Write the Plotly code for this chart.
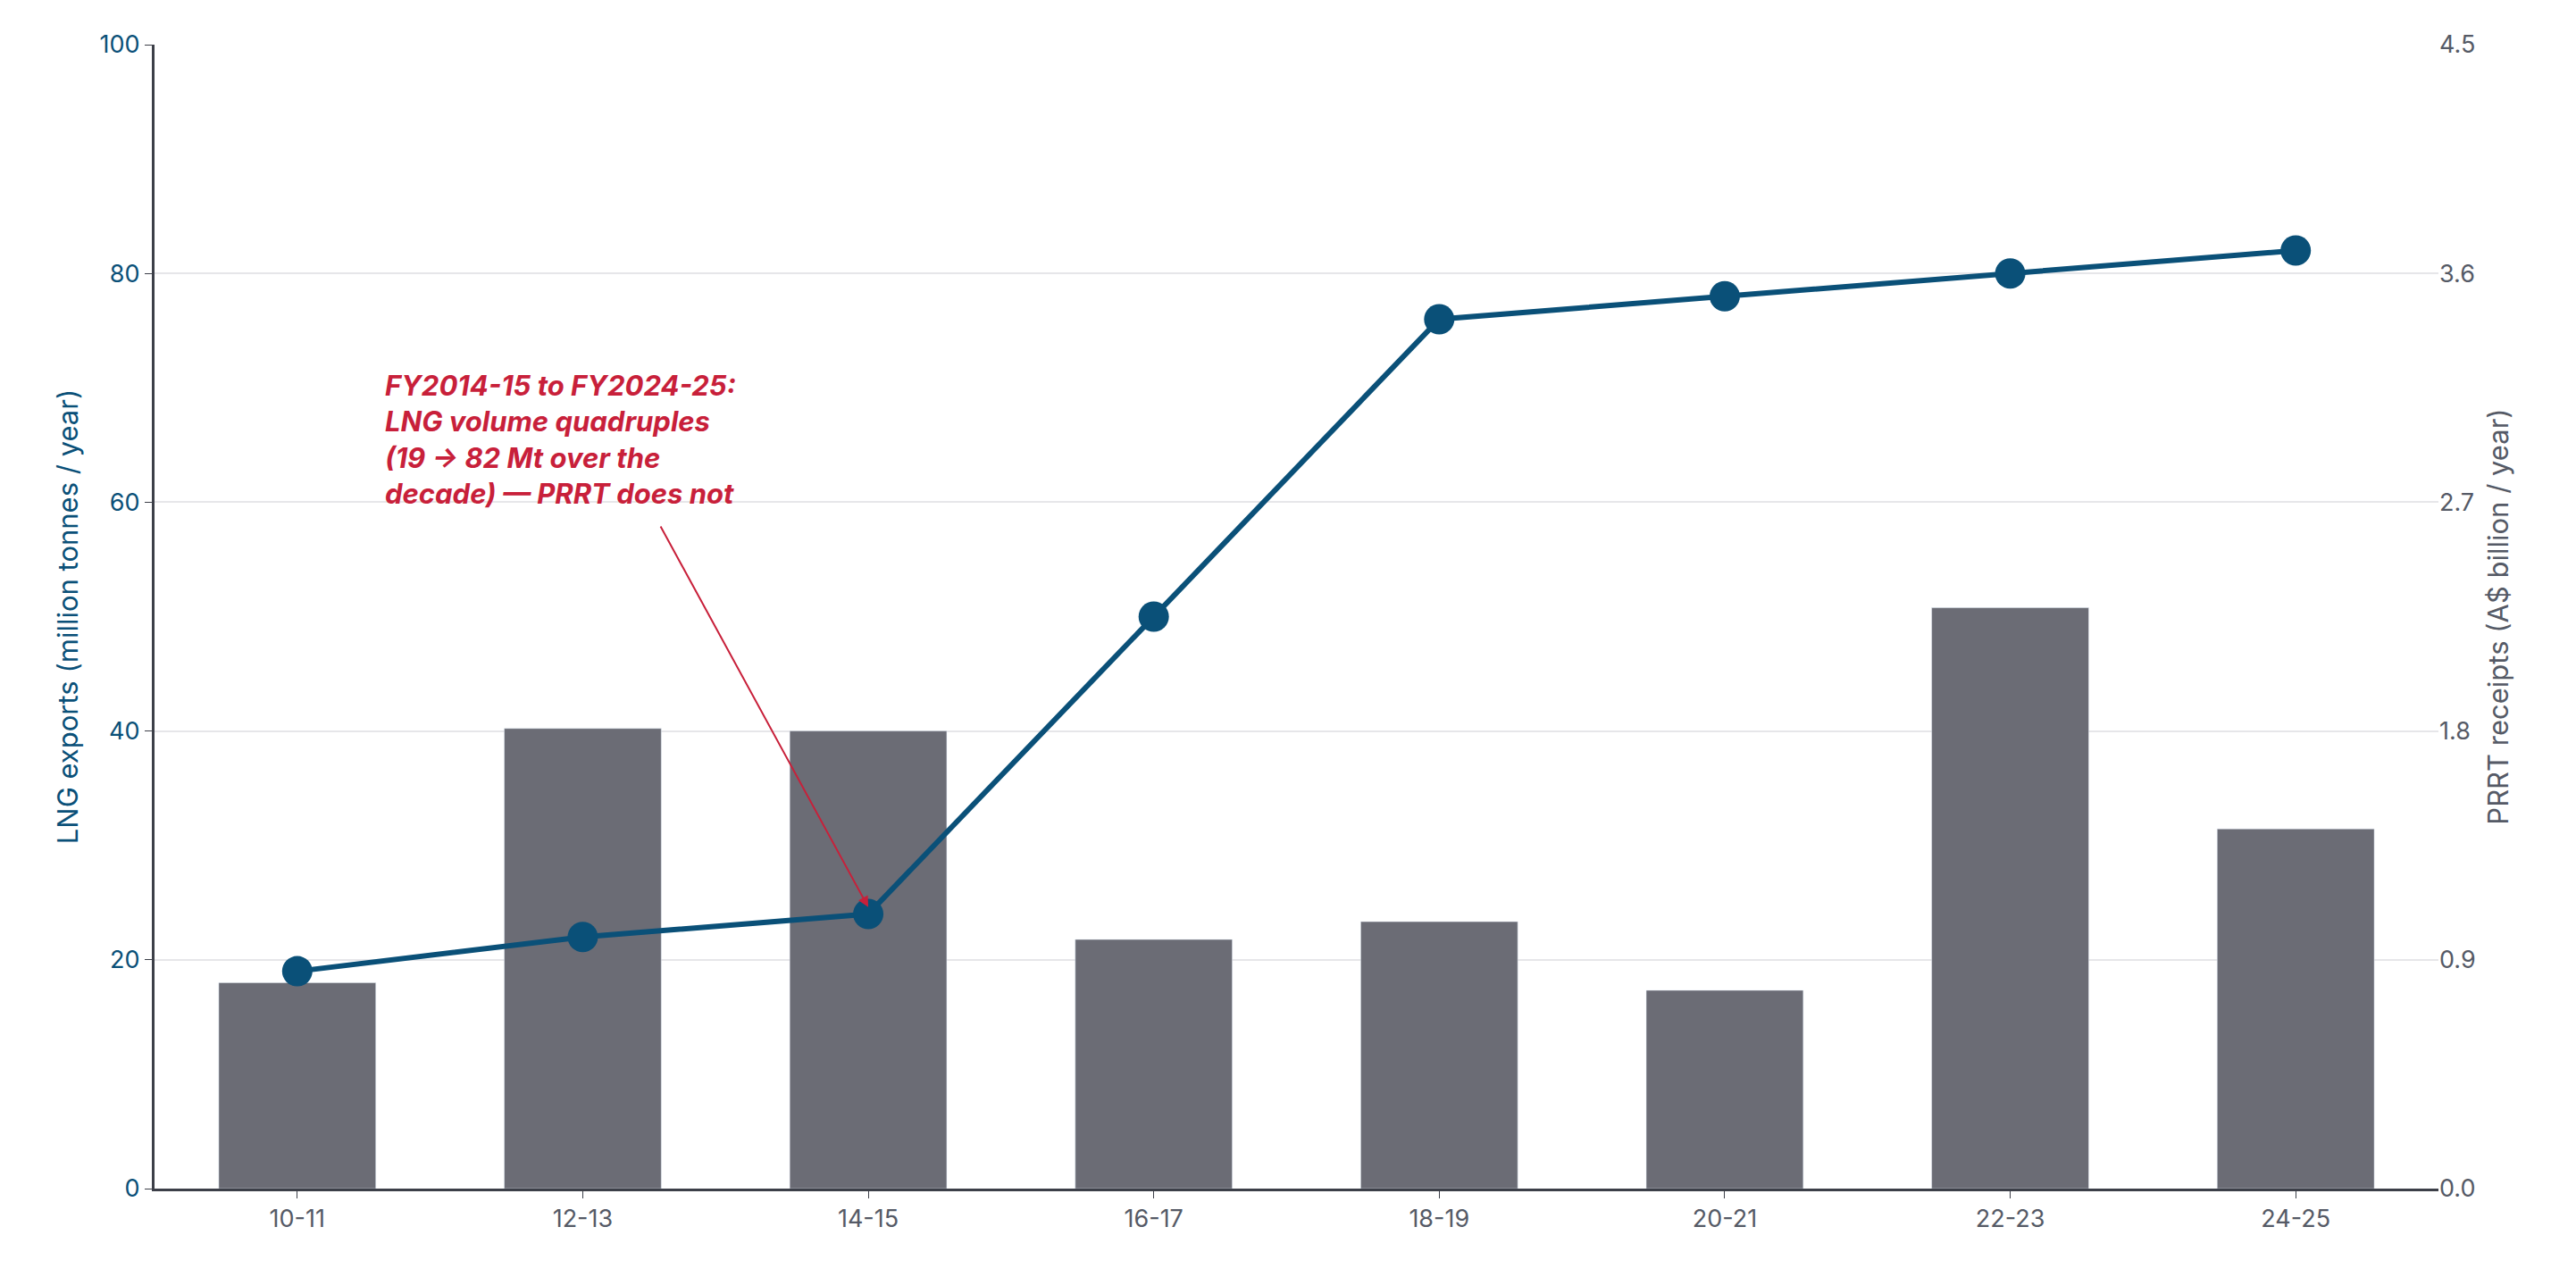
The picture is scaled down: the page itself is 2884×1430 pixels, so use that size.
import plotly.graph_objects as go

years = ["10-11", "12-13", "14-15", "16-17", "18-19", "20-21", "22-23", "24-25"]
lng_exports = [19, 22, 24, 50, 76, 78, 80, 82]
prrt_receipts = [0.81, 1.81, 1.80, 0.98, 1.05, 0.78, 2.285, 1.415]

navy = "#0a5078"
grey = "#6b6c75"
red = "#c8203a"

fig = go.Figure()
# bars on the primary axis (drawn first), shown on the right side
fig.add_trace(go.Bar(x=years, y=prrt_receipts, marker_color=grey, width=0.55,
                     yaxis="y", showlegend=False))
# line on the overlaying axis so it sits above the bars
fig.add_trace(go.Scatter(x=years, y=lng_exports, mode="lines+markers", yaxis="y2",
                         line=dict(color=navy, width=6),
                         marker=dict(size=34, color=navy), showlegend=False))

fig.update_layout(
    width=2884, height=1430,
    margin=dict(l=165, r=162, t=42, b=107),
    plot_bgcolor="white", paper_bgcolor="white",
    font=dict(family="Inter", size=26, color="#555a66"),
    xaxis=dict(type="category", showline=True, linecolor="#3c3f48", linewidth=3, ticks="outside",
               ticklen=8, tickcolor="#3c3f48", tickfont=dict(size=27, color="#555a66")),
    yaxis=dict(side="right", range=[0, 4.5], tickvals=[0, 0.9, 1.8, 2.7, 3.6, 4.5],
               ticktext=["0.0", "0.9", "1.8", "2.7", "3.6", "4.5"],
               showgrid=True, gridcolor="#e6e6e9", gridwidth=1.5, zeroline=False,
               title=dict(text="PRRT receipts (A$ billion / year)", font=dict(size=31, color="#555a66")),
               tickfont=dict(size=27, color="#555a66"), ticks="", showline=False),
    yaxis2=dict(side="left", overlaying="y", range=[0, 100], tickvals=[0, 20, 40, 60, 80, 100],
                showgrid=False, zeroline=False, showline=True, linecolor="#3c3f48", linewidth=3,
                ticks="outside", ticklen=8, tickcolor="#3c3f48",
                title=dict(text="LNG exports (million tonnes / year)", font=dict(size=31, color=navy)),
                tickfont=dict(size=27, color=navy)),
)

fig.add_annotation(x=0.3, y=71.8, xref="x", yref="y2", xanchor="left", yanchor="top", align="left",
                   showarrow=False,
                   text="<b><i>FY2014-15 to FY2024-25:<br>LNG volume quadruples<br>(19 → 82 Mt over the<br>decade) — PRRT does not</i></b>",
                   font=dict(size=31, color=red))
fig.add_annotation(x=2, y=24.6, xref="x", yref="y2", ax=1.27, ay=58, axref="x", ayref="y2",
                   text="", showarrow=True, arrowhead=2, arrowsize=1.2, arrowwidth=2, arrowcolor=red)

fig.write_html("out.html")
